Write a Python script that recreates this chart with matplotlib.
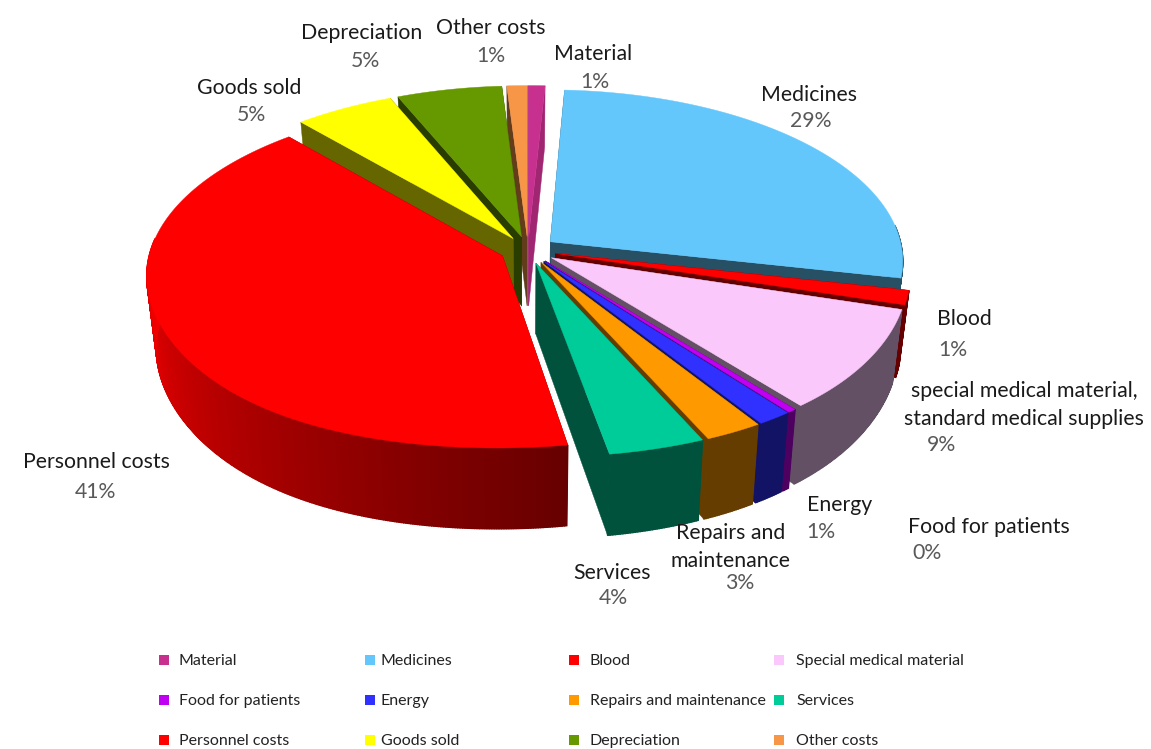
import numpy as np
import matplotlib
matplotlib.use("Agg")
import matplotlib.pyplot as plt
from matplotlib.patches import Polygon

plt.rcParams['font.family'] = ['Lato', 'DejaVu Sans']

# slices, clockwise from 12 o'clock
names = ["Material", "Medicines", "Blood", "Special medical material", "Food for patients", "Energy",
	"Repairs and maintenance", "Services", "Personnel costs", "Goods sold", "Depreciation", "Other costs"]
# slice sizes as they look in the picture, the printed percentages are below
values = [0.83, 27.55, 1.33, 9.72, 0.36, 1.44, 2.36, 3.75, 41.17, 5.08, 5.36, 1.03]
pct_labels = ["1%", "29%", "1%", "9%", "0%", "1%", "3%", "4%", "41%", "5%", "5%", "1%"]
colors = ["#C8308F", "#63C7FC", "#FF0000", "#FAC8FA", "#C000F0", "#3030FF",
	"#FF9900", "#00CC99", "#FF0000", "#FFFF00", "#669900", "#F79646"]

# chart labels differ a bit from the legend names
chart_labels = ["Material", "Medicines", "Blood", "special medical material,\nstandard medical supplies",
	"Food for patients", "Energy", "Repairs and\nmaintenance", "Services", "Personnel costs",
	"Goods sold", "Depreciation", "Other costs"]
label_pos = [(593, 54), (809, 95), (964, 319), (1024, 405), (989, 527), (840, 505),
	(731, 547), (612, 573), (96, 462), (249, 88), (362, 33), (491, 28)]
pct_pos = [(595, 82), (811, 121), (953, 350), (942, 445), (927, 553), (821, 532),
	(740, 583), (613, 598), (95, 492), (251, 115), (365, 61), (491, 56)]

legend_mark_x = [164, 370, 574, 779]
legend_text_x = [179, 381, 590, 796]
legend_y = [660, 700, 740]

# projection of the tilted pie
cx, cy = 528, 250
rx, ry = 352, 170
persp = 0.108
explode = 0.08
wall_h = 70

def project(th, r=1.0, off=0.0):
	# th clockwise from top, in radians
	X = r * np.sin(th) + off * np.sin(off_dir)
	Z = -r * np.cos(th) - off * np.cos(off_dir)
	s = 1 / (1 - persp * Z)
	# very front of the pie comes out wider than plain perspective
	stretch = 1 + 0.07 * np.clip(Z, 0, None) ** 4
	return rx * X * s * stretch, ry * Z * s

def to_px(x, y, bottom=False):
	if bottom:
		return cx + x * 0.975, cy + y * 1.055 + wall_h
	return cx + x, cy + y

def wall_shade(deg):
	if deg <= 170:
		return 0.4
	return min(0.4 + (deg - 170) / 100 * 0.55, 0.95)

def dark(col, k):
	rgb = np.array(matplotlib.colors.to_rgb(col))
	return tuple(rgb * k)

fig = plt.figure(figsize=(11.51, 7.49), dpi=100)
ax = fig.add_axes([0, 0, 1, 1])
ax.set_xlim(0, 1151)
ax.set_ylim(749, 0)
ax.axis('off')

fracs = np.array(values) / sum(values) * 360
edges = np.concatenate([[0], np.cumsum(fracs)])

# back slices first, personnel last
order = [0, 11, 10, 9, 1, 2, 3, 4, 5, 6, 7, 8]
for i in order:
	a0, a1 = np.radians(edges[i]), np.radians(edges[i + 1])
	off_dir = (a0 + a1) / 2
	ths = np.linspace(a0, a1, max(int(edges[i + 1] - edges[i]) * 3, 4))
	xs, ys = project(ths, 1.0, explode)
	tx, ty = project(np.array([0.0]), 0.0, explode)
	face = colors[i]

	# cut faces
	for k in [0, -1]:
		quad = [to_px(tx[0], ty[0]), to_px(xs[k], ys[k]), to_px(xs[k], ys[k], True), to_px(tx[0], ty[0], True)]
		c = dark(face, 0.8 if i == 0 else 0.4)
		ax.add_patch(Polygon(quad, closed=True, fc=c, ec=c, lw=0.3))

	# outer wall as thin strips for the shading, the back half can't be seen
	for j in range(len(ths) - 1):
		if np.cos(ths[j]) > 0.1:
			continue
		quad = [to_px(xs[j], ys[j]), to_px(xs[j + 1], ys[j + 1]), to_px(xs[j + 1], ys[j + 1], True), to_px(xs[j], ys[j], True)]
		c = dark(face, wall_shade(np.degrees(ths[j])))
		ax.add_patch(Polygon(quad, closed=True, fc=c, ec=c, lw=1.0))

	# top
	top = [to_px(tx[0], ty[0])] + [to_px(x, y) for x, y in zip(xs, ys)]
	ax.add_patch(Polygon(top, closed=True, fc=face, ec=face, lw=0.3))

for i in range(len(names)):
	ax.text(label_pos[i][0], label_pos[i][1], chart_labels[i], fontsize=15.3, color="#1a1a1a",
		ha='center', va='center', linespacing=1.45)
	ax.text(pct_pos[i][0], pct_pos[i][1], pct_labels[i], fontsize=15.3, color="#595959",
		ha='center', va='center')

# legend by hand, the columns are not evenly spaced
for i in range(len(names)):
	col = i % 4
	row = i // 4
	ax.scatter([legend_mark_x[col]], [legend_y[row]], marker='s', s=60, color=colors[i], linewidths=0)
	ax.text(legend_text_x[col], legend_y[row] + 1, names[i], fontsize=11.5, color="#222222", ha='left', va='center')

fig.savefig("out.png", dpi=100)
